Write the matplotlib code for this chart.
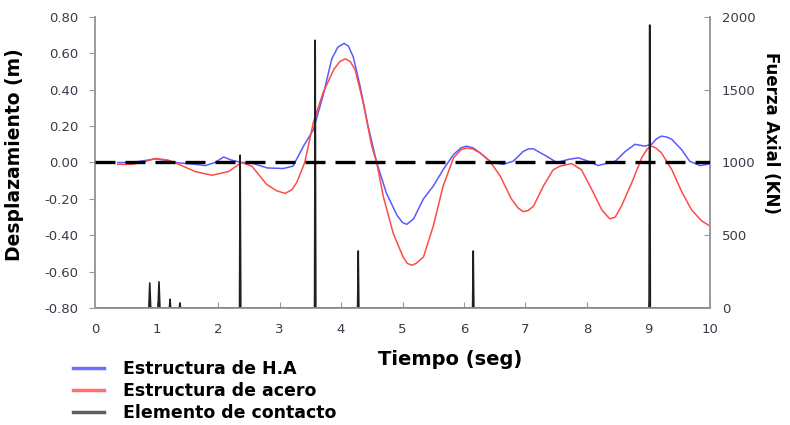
import matplotlib.pyplot as plt
from matplotlib.lines import Line2D

# Desplazamiento - estructura de H.A (m)
t_ha = [0.37, 0.6, 0.8, 0.98, 1.15, 1.3, 1.63, 1.79, 1.95, 2.09, 2.22, 2.38, 2.52,
        2.8, 3.06, 3.22, 3.39, 3.55, 3.71, 3.85, 3.95, 4.05, 4.12, 4.2, 4.31, 4.44,
        4.58, 4.74, 4.91, 5.0, 5.07, 5.18, 5.34, 5.5, 5.66, 5.83, 5.95, 6.04, 6.15,
        6.26, 6.45, 6.64, 6.8, 6.96, 7.05, 7.13, 7.34, 7.51, 7.7, 7.86, 8.02, 8.18,
        8.46, 8.62, 8.78, 8.94, 9.05, 9.13, 9.21, 9.3, 9.38, 9.54, 9.67, 9.84, 10.0]
d_ha = [0.0, 0.0, 0.01, 0.02, 0.013, 0.0, -0.01, -0.017, 0.0, 0.03, 0.013, 0.0, 0.0,
        -0.03, -0.033, -0.02, 0.09, 0.18, 0.37, 0.57, 0.635, 0.655, 0.64, 0.58, 0.42, 0.2,
        0.0, -0.17, -0.29, -0.33, -0.34, -0.31, -0.2, -0.13, -0.04, 0.044, 0.08, 0.09, 0.08,
        0.053, 0.0, -0.01, 0.007, 0.06, 0.075, 0.075, 0.035, 0.0, 0.017, 0.026, 0.007, -0.017,
        0.007, 0.06, 0.1, 0.09, 0.1, 0.13, 0.145, 0.14, 0.127, 0.07, 0.007, -0.017, -0.008]

# Desplazamiento - estructura de acero (m)
t_ac = [0.37, 0.6, 0.76, 0.98, 1.19, 1.41, 1.63, 1.9, 2.17, 2.38, 2.55, 2.79,
        2.95, 3.09, 3.2, 3.28, 3.41, 3.55, 3.71, 3.88, 3.98, 4.07, 4.15, 4.23, 4.36,
        4.5, 4.58, 4.69, 4.85, 5.01, 5.08, 5.15, 5.22, 5.34, 5.5, 5.66, 5.83, 5.95,
        6.04, 6.14, 6.26, 6.42, 6.59, 6.77, 6.88, 6.96, 7.04, 7.13, 7.29, 7.45, 7.56,
        7.75, 7.91, 8.08, 8.24, 8.37, 8.46, 8.56, 8.73, 8.89, 8.98, 9.05, 9.12, 9.21,
        9.38, 9.54, 9.7, 9.86, 10.0]
d_ac = [-0.01, -0.01, 0.0, 0.022, 0.013, -0.017, -0.05, -0.07, -0.05, 0.0, -0.02, -0.12,
        -0.155, -0.17, -0.15, -0.11, 0.0, 0.22, 0.385, 0.51, 0.555, 0.57, 0.555, 0.51, 0.33,
        0.09, 0.0, -0.19, -0.39, -0.52, -0.555, -0.565, -0.555, -0.52, -0.35, -0.13, 0.026, 0.07,
        0.08, 0.075, 0.053, 0.007, -0.075, -0.2, -0.25, -0.27, -0.265, -0.24, -0.13, -0.04, -0.02,
        -0.006, -0.04, -0.15, -0.26, -0.31, -0.3, -0.24, -0.11, 0.026, 0.075, 0.09, 0.08, 0.053,
        -0.04, -0.16, -0.26, -0.32, -0.35]

# Elemento de contacto - fuerza axial (KN)
t_ct = [0.0, 0.875, 0.89, 0.905, 1.025, 1.04, 1.055, 1.21, 1.22, 1.23, 1.37, 1.38, 1.39,
        2.35, 2.36, 2.37, 3.57, 3.58, 3.59, 4.27, 4.28, 4.29, 6.14, 6.15, 6.16,
        9.01, 9.02, 9.03, 10.0]
f_ct = [0, 0, 172, 0, 0, 180, 0, 0, 60, 0, 0, 35, 0,
        0, 1050, 0, 0, 1840, 0, 0, 392, 0, 0, 392, 0,
        0, 1945, 0, 0]

c_ha = '#5a5aff'
c_ac = '#ff4a4a'
c_ct = '#202020'
grey = '#9a9a9a'
tick_col = '#3a3a4a'
fam = 'DejaVu Sans'

fig = plt.figure(figsize=(7.9, 4.25), dpi=100)
ax = fig.add_axes([0.1203, 0.2753, 0.7784, 0.6847])
ax2 = ax.twinx()

ax.plot(t_ha, d_ha, color=c_ha, lw=1.1)
ax.plot(t_ac, d_ac, color=c_ac, lw=1.1)
ax2.plot(t_ct, f_ct, color=c_ct, lw=1.2)
ax2.axhline(1000, color='black', lw=2.4, dashes=(6, 3), zorder=5)

ax.set_xlim(0, 10)
ax.set_ylim(-0.8, 0.8)
ax2.set_ylim(0, 2000)
ax.set_xticks(range(0, 11))
ax.set_yticks([-0.8, -0.6, -0.4, -0.2, 0.0, 0.2, 0.4, 0.6, 0.8])
ax.set_yticklabels(['%.2f' % v for v in ax.get_yticks()])
ax2.set_yticks([0, 500, 1000, 1500, 2000])

for a in (ax, ax2):
    a.spines['top'].set_visible(False)
    for s in ('left', 'right', 'bottom'):
        a.spines[s].set_color(grey)
        a.spines[s].set_linewidth(1.2)

ax.tick_params(axis='y', direction='out', length=4, color=grey, labelsize=9.5,
               labelcolor=tick_col, pad=8)
ax.tick_params(axis='x', direction='in', length=4, color=grey, labelsize=9.5,
               labelcolor=tick_col, pad=11)
ax2.tick_params(axis='y', direction='in', length=4, color=grey, labelsize=9.5,
                labelcolor=tick_col, pad=8.5)

lab = dict(fontweight='bold', family=fam)
ax.set_xlabel('Tiempo (seg)', fontsize=14, **lab)
ax.xaxis.set_label_coords(0.578, -0.145)
ax.set_ylabel('Desplazamiento (m)', fontsize=13.5, **lab)
ax.yaxis.set_label_coords(-0.115, 0.526)
ax2.set_ylabel('Fuerza Axial (KN)', rotation=270, fontsize=12, va='center', **lab)
ax2.yaxis.set_label_coords(1.1, 0.6)

handles = [Line2D([], [], color='#7070ff', lw=2.5),
           Line2D([], [], color='#ff7070', lw=2.5),
           Line2D([], [], color='#606060', lw=2.5)]
labels = ['Estructura de H.A', 'Estructura de acero', 'Elemento de contacto']
fig.legend(handles, labels, loc='lower left', bbox_to_anchor=(0.072, -0.03),
           frameon=False, handlelength=1.8, handletextpad=1.1, labelspacing=0.22,
           prop={'family': fam, 'weight': 'bold', 'size': 12.5})

fig.savefig('out.png', dpi=100)
